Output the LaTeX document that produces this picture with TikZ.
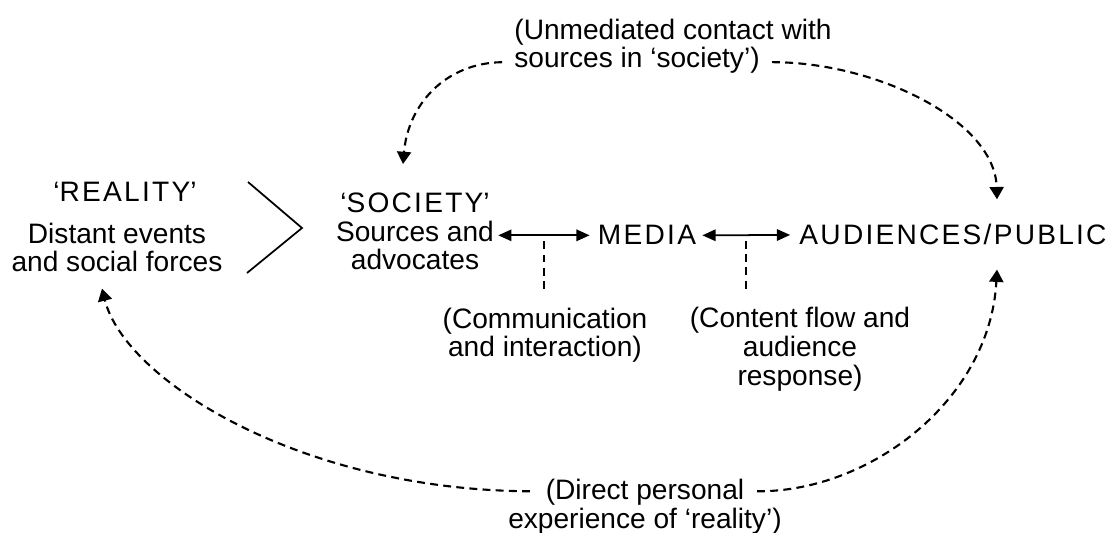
\documentclass[tikz,border=0pt]{standalone}
\usepackage{fontspec}
\setmainfont{Liberation Sans}
\newfontfamily\spacedfont{Liberation Sans}[LetterSpace=8]
\usetikzlibrary{arrows.meta,calc,positioning}
\tikzset{%
	txt/.style      = {align=center, inner sep=0pt, anchor=base, font=\fontsize{16pt}{16.5pt}\selectfont},
	bigword/.style  = {txt, font=\fontsize{16pt}{16.5pt}\spacedfont},
	both/.style     = {line width=1pt, {Triangle[length=7.5pt,width=6.5pt]}-{Triangle[length=7.5pt,width=6.5pt]}},
	tieline/.style  = {line width=1pt, dash pattern=on 4.5pt off 3pt},
	feedback/.style = {line width=1.2pt, dash pattern=on 4.5pt off 3pt, -{Triangle[length=7pt,width=8pt]}},
}

\begin{document}
\begin{tikzpicture}[x=0.02cm, y=-0.02cm]
	\useasboundingbox (0,0) rectangle (1112,533);
	% left: reality
	\node[txt] (realtitle) at (125,202) {‘{\spacedfont REALITY}’};
	\node[txt] (real) at (117,272) {Distant events\\and social forces};
	\draw[line width=1pt] (248,182) -- (302,228) -- (247,273);
	% middle row
	\node[txt] (society) at (415,270) {‘{\spacedfont SOCIETY}’\\Sources and\\advocates};
	\node[bigword] (media) at (647,245) {MEDIA};
	\node[bigword] (public) at (953,245) {AUDIENCES/PUBLIC};
	\draw[both] ($(society.east |- media)+(4,0)$) -- coordinate (c1) ($(media.west)+(-8,0)$);
	\draw[both] ($(media.east)+(6,0)$) -- coordinate (c2) ($(public.west)+(-9,0)$);
	\node[txt] (comm) at (545,357) {(Communication\\and interaction)};
	\node[txt] (content) at (800,385) {(Content flow and\\audience\\response)};
	\draw[tieline] ($(c1)+(0,6)$) -- ($(c1 |- comm.north)+(0,-14)$);
	\draw[tieline] ($(c2)+(0,6)$) -- ($(c2 |- content.north)+(0,-14)$);
	% top and bottom loops
	\node[txt, align=left] (unmediated) at (673,68) {(Unmediated contact with\\sources in ‘society’)};
	\node[txt] (direct) at (645,528) {(Direct personal\\experience of ‘reality’)};
	\draw[feedback] ($(unmediated.south west)+(-12,-12)$) .. controls (445,63) and (408,105) .. ($(society.north)+(-12,-28)$);
	\draw[feedback] ($(unmediated.south west)+(258,-12)$) .. controls (875,62) and (995,120) .. ($(public.north)+(44,-25)$);
	\draw[feedback] ($(direct.north west)+(22,13)$) .. controls (300,490) and (125,380) .. ($(real.south)+(-15,16)$);
	\draw[feedback] ($(direct.north east)+(-25,13)$) .. controls (870,492) and (990,400) .. ($(public.south)+(44,24)$);
\end{tikzpicture}
\end{document}
